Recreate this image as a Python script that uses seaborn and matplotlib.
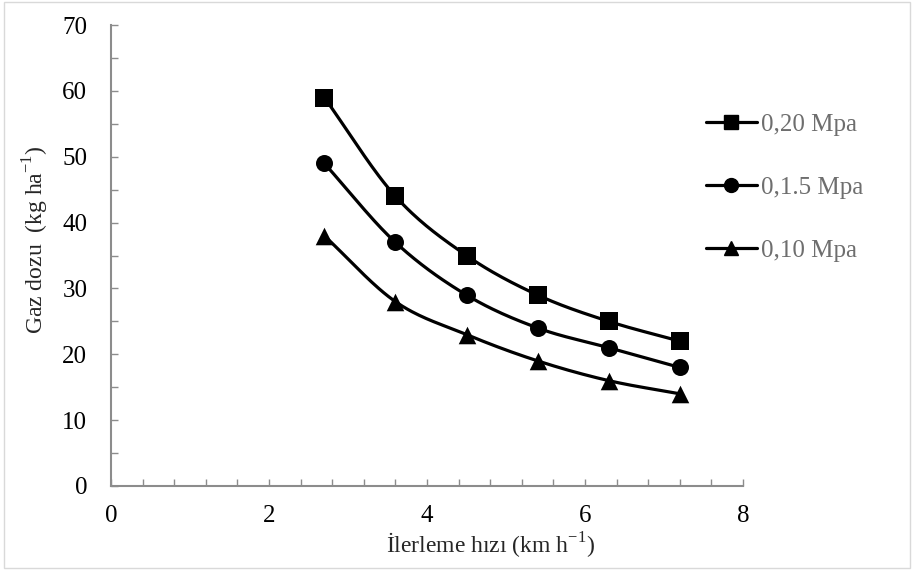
import numpy as np
import pandas as pd
import seaborn as sns
import matplotlib.pyplot as plt
from matplotlib.ticker import MultipleLocator
from matplotlib.lines import Line2D

speed = [2.7, 3.6, 4.5, 5.4, 6.3, 7.2]
dose_020 = [59, 44, 35, 29, 25, 22]
dose_015 = [49, 37, 29, 24, 21, 18]
dose_010 = [38, 28, 23, 19, 16, 14]
labels = ["0,20 Mpa", "0,1.5 Mpa", "0,10 Mpa"]
markers = ["s", "o", "^"]

sns.set_theme(style="white")
plt.rcParams['font.family'] = ['Liberation Serif', 'DejaVu Serif']
plt.rcParams['mathtext.fontset'] = 'custom'
plt.rcParams['mathtext.rm'] = 'Liberation Serif'

def smooth(x, y, n=30):
    # Catmull-Rom style smoothing between points (for line drawing only)
    x = np.asarray(x, float); y = np.asarray(y, float)
    px = np.concatenate([[2*x[0]-x[1]], x, [2*x[-1]-x[-2]]])
    py = np.concatenate([[2*y[0]-y[1]], y, [2*y[-1]-y[-2]]])
    xs, ys = [], []
    for i in range(1, len(px)-2):
        t = np.linspace(0, 1, n, endpoint=(i == len(px)-3))
        for arr, out in ((px, xs), (py, ys)):
            p0, p1, p2, p3 = arr[i-1], arr[i], arr[i+1], arr[i+2]
            out.extend(0.5*((2*p1) + (-p0+p2)*t + (2*p0-5*p1+4*p2-p3)*t**2 + (-p0+3*p1-3*p2+p3)*t**3))
    return np.array(xs), np.array(ys)

fig = plt.figure(figsize=(9.14, 5.70), dpi=100)
ax = fig.add_axes([0.1214, 0.1474, 0.6916, 0.8086])

series = [dose_020, dose_015, dose_010]
for lab, mk, ys in zip(labels, markers, series):
    sx, sy = smooth(speed, ys)
    sns.lineplot(x=sx, y=sy, ax=ax, color='black', lw=2.3, sort=False, estimator=None)
    sns.scatterplot(x=speed, y=ys, ax=ax, marker=mk, color='black', s=150 if mk != '^' else 160,
                    edgecolor='black', linewidth=0, zorder=5)

handles = [Line2D([], [], color='black', lw=2.3, marker=m, markersize=10 if m != '^' else 10.5)
           for m in markers]
leg = ax.legend(handles, labels, loc='upper left', bbox_to_anchor=(0.925, 0.83),
                frameon=False, fontsize=18, labelspacing=1.62, handlelength=2.05,
                handletextpad=0.15, borderaxespad=0)
for t in leg.get_texts():
    t.set_color('#6e6e6e')

ax.set_xlim(0, 8)
ax.set_ylim(0, 70)
ax.xaxis.set_major_locator(MultipleLocator(2))
ax.xaxis.set_minor_locator(MultipleLocator(0.4))
ax.yaxis.set_major_locator(MultipleLocator(10))
ax.yaxis.set_minor_locator(MultipleLocator(5))
ax.tick_params(which='both', direction='in', color='#8c8c8c', width=1, length=5,
               labelsize=18, labelcolor='black')
ax.tick_params(axis='x', which='both', bottom=True, pad=14)
ax.tick_params(axis='y', which='both', left=True, pad=17)
for s in ['top', 'right']:
    ax.spines[s].set_visible(False)
for s in ['left', 'bottom']:
    ax.spines[s].set_color('#8c8c8c')
    ax.spines[s].set_linewidth(1.5)

ax.set_xlabel('İlerleme hızı (km h$^{\\mathregular{-1}}$)', fontsize=17, labelpad=2)
ax.set_ylabel('Gaz dozu  (kg ha$^{\\mathregular{-1}}$)', fontsize=17, labelpad=8)
ax.xaxis.set_label_coords(0.6, -0.098)
ax.yaxis.label.set_position((0, 0.534))

fig.patches.append(plt.Rectangle((0.004, 0.004), 0.992, 0.992, transform=fig.transFigure,
                                 fill=False, edgecolor='#d9d9d9', lw=1))
fig.savefig('out.png', dpi=100, facecolor='white')
